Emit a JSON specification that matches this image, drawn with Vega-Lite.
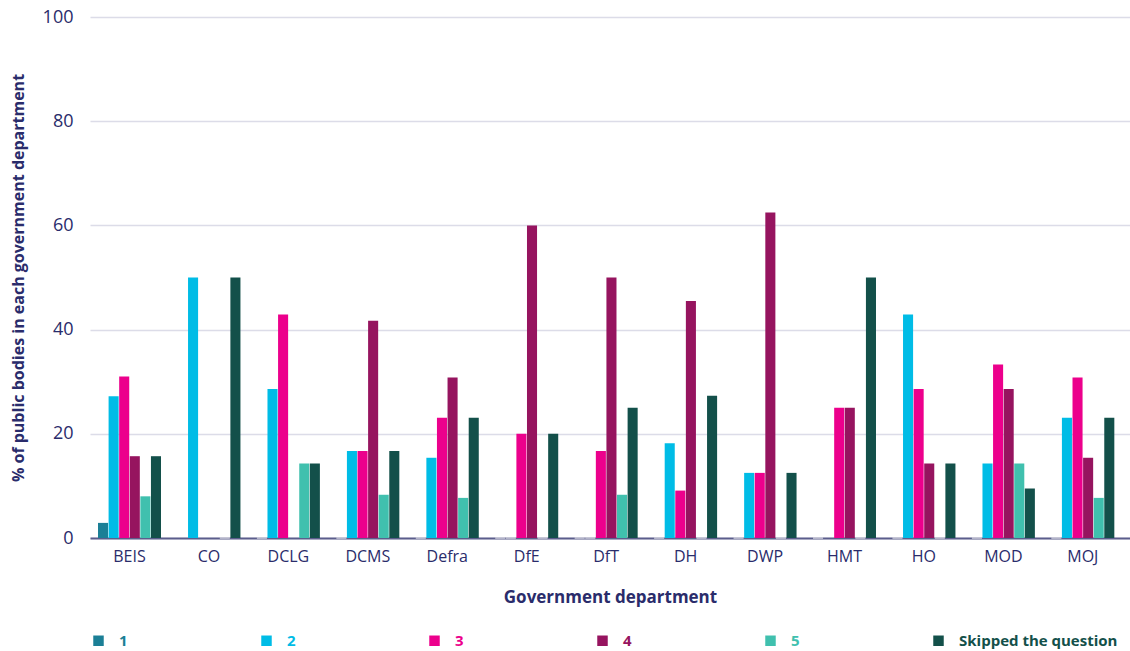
{
  "$schema": "https://vega.github.io/schema/vega-lite/v6.json",
  "width": 1040,
  "height": 521,
  "autosize": {"type": "none"},
  "padding": {"left": 90, "top": 17, "right": 0, "bottom": 113},
  "background": "#ffffff",
  "config": {
    "font": "Open Sans",
    "view": {"stroke": null},
    "axis": {"labelColor": "#2a2c6b", "titleColor": "#2a2c6b", "labelFont": "Open Sans", "titleFont": "Open Sans"}
  },
  "data": {
    "values": [
      {"dept": "BEIS", "rating": "1", "pct": 2.9},
      {"dept": "BEIS", "rating": "2", "pct": 27.2},
      {"dept": "BEIS", "rating": "3", "pct": 31.0},
      {"dept": "BEIS", "rating": "4", "pct": 15.7},
      {"dept": "BEIS", "rating": "5", "pct": 8.0},
      {"dept": "BEIS", "rating": "Skipped the question", "pct": 15.7},
      {"dept": "CO", "rating": "2", "pct": 50},
      {"dept": "CO", "rating": "5", "pct": 0},
      {"dept": "CO", "rating": "Skipped the question", "pct": 50},
      {"dept": "DCLG", "rating": "1", "pct": 0},
      {"dept": "DCLG", "rating": "2", "pct": 28.6},
      {"dept": "DCLG", "rating": "3", "pct": 42.9},
      {"dept": "DCLG", "rating": "5", "pct": 14.3},
      {"dept": "DCLG", "rating": "Skipped the question", "pct": 14.3},
      {"dept": "DCMS", "rating": "1", "pct": 0},
      {"dept": "DCMS", "rating": "2", "pct": 16.7},
      {"dept": "DCMS", "rating": "3", "pct": 16.7},
      {"dept": "DCMS", "rating": "4", "pct": 41.7},
      {"dept": "DCMS", "rating": "5", "pct": 8.3},
      {"dept": "DCMS", "rating": "Skipped the question", "pct": 16.7},
      {"dept": "Defra", "rating": "1", "pct": 0},
      {"dept": "Defra", "rating": "2", "pct": 15.4},
      {"dept": "Defra", "rating": "3", "pct": 23.1},
      {"dept": "Defra", "rating": "4", "pct": 30.8},
      {"dept": "Defra", "rating": "5", "pct": 7.7},
      {"dept": "Defra", "rating": "Skipped the question", "pct": 23.1},
      {"dept": "DfE", "rating": "1", "pct": 0},
      {"dept": "DfE", "rating": "2", "pct": 0},
      {"dept": "DfE", "rating": "3", "pct": 20},
      {"dept": "DfE", "rating": "4", "pct": 60},
      {"dept": "DfE", "rating": "5", "pct": 0},
      {"dept": "DfE", "rating": "Skipped the question", "pct": 20},
      {"dept": "DfT", "rating": "1", "pct": 0},
      {"dept": "DfT", "rating": "2", "pct": 0},
      {"dept": "DfT", "rating": "3", "pct": 16.7},
      {"dept": "DfT", "rating": "4", "pct": 50},
      {"dept": "DfT", "rating": "5", "pct": 8.3},
      {"dept": "DfT", "rating": "Skipped the question", "pct": 25},
      {"dept": "DH", "rating": "1", "pct": 0},
      {"dept": "DH", "rating": "2", "pct": 18.2},
      {"dept": "DH", "rating": "3", "pct": 9.1},
      {"dept": "DH", "rating": "4", "pct": 45.5},
      {"dept": "DH", "rating": "5", "pct": 0},
      {"dept": "DH", "rating": "Skipped the question", "pct": 27.3},
      {"dept": "DWP", "rating": "1", "pct": 0},
      {"dept": "DWP", "rating": "2", "pct": 12.5},
      {"dept": "DWP", "rating": "3", "pct": 12.5},
      {"dept": "DWP", "rating": "4", "pct": 62.5},
      {"dept": "DWP", "rating": "5", "pct": 0},
      {"dept": "DWP", "rating": "Skipped the question", "pct": 12.5},
      {"dept": "HMT", "rating": "1", "pct": 0},
      {"dept": "HMT", "rating": "3", "pct": 25},
      {"dept": "HMT", "rating": "4", "pct": 25},
      {"dept": "HMT", "rating": "5", "pct": 0},
      {"dept": "HMT", "rating": "Skipped the question", "pct": 50},
      {"dept": "HO", "rating": "1", "pct": 0},
      {"dept": "HO", "rating": "2", "pct": 42.9},
      {"dept": "HO", "rating": "3", "pct": 28.6},
      {"dept": "HO", "rating": "4", "pct": 14.3},
      {"dept": "HO", "rating": "5", "pct": 0},
      {"dept": "HO", "rating": "Skipped the question", "pct": 14.3},
      {"dept": "MOD", "rating": "1", "pct": 0},
      {"dept": "MOD", "rating": "2", "pct": 14.3},
      {"dept": "MOD", "rating": "3", "pct": 33.3},
      {"dept": "MOD", "rating": "4", "pct": 28.6},
      {"dept": "MOD", "rating": "5", "pct": 14.3},
      {"dept": "MOD", "rating": "Skipped the question", "pct": 9.5},
      {"dept": "MOJ", "rating": "1", "pct": 0},
      {"dept": "MOJ", "rating": "2", "pct": 23.1},
      {"dept": "MOJ", "rating": "3", "pct": 30.8},
      {"dept": "MOJ", "rating": "4", "pct": 15.4},
      {"dept": "MOJ", "rating": "5", "pct": 7.7},
      {"dept": "MOJ", "rating": "Skipped the question", "pct": 23.1}
    ]
  },
  "mark": {"type": "bar", "strokeWidth": 1.5},
  "encoding": {
    "x": {
      "field": "dept",
      "type": "nominal",
      "sort": ["BEIS", "CO", "DCLG", "DCMS", "Defra", "DfE", "DfT", "DH", "DWP", "HMT", "HO", "MOD", "MOJ"],
      "scale": {"paddingInner": 0.207, "paddingOuter": 0.149, "align": 0.338},
      "axis": {
        "title": "Government department",
        "labelAngle": 0,
        "labelFontSize": 16,
        "labelPadding": 10,
        "ticks": false,
        "domainColor": "#5b5d8c",
        "domainWidth": 2,
        "titleFontSize": 17,
        "titleFontWeight": "bold",
        "titlePadding": 25
      }
    },
    "xOffset": {
      "field": "rating",
      "type": "nominal",
      "scale": {"domain": ["1", "2", "3", "4", "5", "Skipped the question"], "paddingInner": 0.05}
    },
    "y": {
      "field": "pct",
      "type": "quantitative",
      "scale": {"domain": [0, 100]},
      "axis": {
        "title": "% of public bodies in each government department",
        "values": [0, 20, 40, 60, 80, 100],
        "domain": false,
        "ticks": false,
        "labelFontSize": 18,
        "labelPadding": 17,
        "gridColor": "#dcdce8",
        "gridWidth": 1.5,
        "titleFontSize": 16,
        "titleFontWeight": "bold",
        "titlePadding": 16
      }
    },
    "color": {
      "field": "rating",
      "type": "nominal",
      "scale": {
        "domain": ["1", "2", "3", "4", "5", "Skipped the question"],
        "range": ["#1b7f96", "#00bce6", "#ec008c", "#96145f", "#40c0ae", "#13504a"]
      },
      "legend": {
        "title": null,
        "orient": "none",
        "direction": "horizontal",
        "columns": 6,
        "legendX": 1,
        "legendY": 616,
        "padding": 0,
        "columnPadding": 131,
        "symbolType": "square",
        "symbolSize": 110,
        "symbolStrokeWidth": 0,
        "labelOffset": 13,
        "labelFontSize": 15,
        "labelFontWeight": "bold",
        "labelFont": "Open Sans",
        "labelColor": {"expr": "scale('color', datum.value)"}
      }
    },
    "stroke": {
      "condition": {"test": "datum.pct == 0", "value": "#cfcfdd"},
      "value": null
    }
  }
}
